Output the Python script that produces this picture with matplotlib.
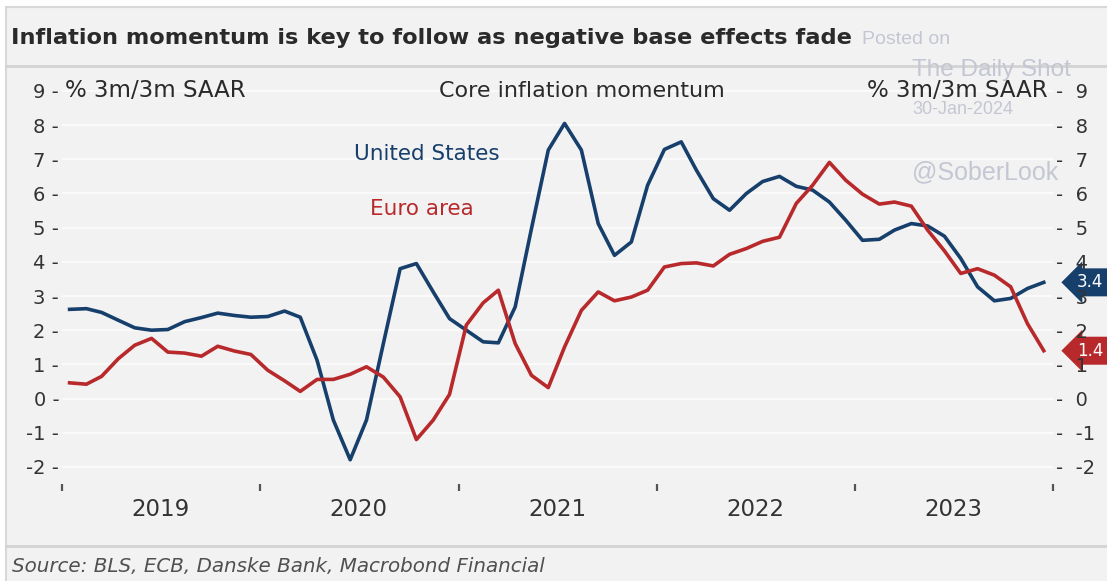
import numpy as np
import pandas as pd
import matplotlib.pyplot as plt
from matplotlib.patches import Rectangle
from matplotlib.lines import Line2D

# Core inflation momentum, % 3m/3m SAAR, monthly Jan 2019 - Dec 2023
us = [2.61, 2.63, 2.52, 2.29, 2.07, 2.00, 2.02, 2.25, 2.37, 2.50, 2.43, 2.38,
      2.40, 2.56, 2.38, 1.12, -0.63, -1.79, -0.63, 1.60, 3.80, 3.95, 3.12, 2.34,
      2.00, 1.66, 1.63, 2.68, 4.97, 7.27, 8.05, 7.27, 5.12, 4.19, 4.58, 6.24,
      7.29, 7.51, 6.68, 5.85, 5.51, 6.00, 6.35, 6.50, 6.21, 6.10, 5.75, 5.22,
      4.63, 4.66, 4.93, 5.12, 5.05, 4.75, 4.10, 3.27, 2.86, 2.93, 3.22, 3.40]
ea = [0.46, 0.42, 0.65, 1.17, 1.56, 1.76, 1.36, 1.33, 1.24, 1.53, 1.39, 1.29,
      0.83, 0.52, 0.21, 0.56, 0.56, 0.71, 0.93, 0.63, 0.05, -1.20, -0.63, 0.12,
      2.15, 2.80, 3.17, 1.61, 0.68, 0.32, 1.51, 2.58, 3.12, 2.86, 2.97, 3.17,
      3.85, 3.95, 3.97, 3.88, 4.22, 4.39, 4.60, 4.72, 5.71, 6.24, 6.91, 6.39,
      5.98, 5.69, 5.75, 5.63, 4.93, 4.32, 3.66, 3.80, 3.61, 3.27, 2.19, 1.40]
months = pd.date_range('2019-01-01', periods=len(us), freq='MS') + pd.Timedelta(days=14)
years = [2019, 2020, 2021, 2022, 2023]
yticks = list(range(-2, 10))

BLUE = '#173f6b'
RED = '#b8292b'
BG = '#f2f2f2'
TXT = '#2a2a2a'
W, H = 1107, 581

plt.rcParams['font.family'] = ['DejaVu Sans']

fig = plt.figure(figsize=(W / 100, H / 100), dpi=100)
fig.patch.set_facecolor('white')

# panel background, border and separators
fig.add_artist(Rectangle((6 / W, -0.01), 1.0, 1 + 0.01 - 7 / H, transform=fig.transFigure,
                         facecolor=BG, edgecolor='#d8d8d8', lw=1.5, zorder=0))
for ypx in (66, 546):
    fig.add_artist(Line2D([6 / W, 1], [1 - ypx / H] * 2, transform=fig.transFigure,
                          color='#d3d3d3', lw=2))

fig.text(11 / W, 1 - 38 / H, 'Inflation momentum is key to follow as negative base effects fade',
         fontsize=16.2, fontweight='bold', color=TXT, va='center', ha='left')
fig.text(12 / W, 1 - 566 / H, 'Source: BLS, ECB, Danske Bank, Macrobond Financial',
         fontsize=14.3, style='italic', color='#505050', va='center', ha='left')

# watermark
wm = '#c4c7d3'
fig.text(862 / W, 1 - 40 / H, 'Posted on', fontsize=14, color=wm, va='center', family='Liberation Sans')
fig.text(912 / W, 1 - 70 / H, 'The Daily Shot', fontsize=17.5, color=wm, va='center', family='Liberation Sans')
fig.text(912 / W, 1 - 109 / H, '30-Jan-2024', fontsize=13, color=wm, va='center', family='Liberation Sans')
fig.text(912 / W, 1 - 172 / H, '@SoberLook', fontsize=18, color=wm, va='center', family='Liberation Sans')

ax = fig.add_axes([62 / W, 1 - 484 / H, (1053 - 62) / W, (484 - 79) / H])
ax.set_facecolor('none')
ax.plot(months, us, color=BLUE, lw=2.6, solid_joinstyle='round', zorder=3)
ax.plot(months, ea, color=RED, lw=2.6, solid_joinstyle='round', zorder=3)

ax.set_xlim(pd.Timestamp('2019-01-01'), pd.Timestamp('2024-01-01'))
ax.set_ylim(-2.5, 9.35)
for s in ax.spines.values():
    s.set_visible(False)

ax.set_yticks(yticks)
ax.set_yticklabels([f'{v} -' for v in yticks])
ax.tick_params(axis='y', length=0, pad=2, labelsize=14, labelcolor='#333333')
ax.grid(axis='y', color='#fafafa', lw=1.6, zorder=1)

ax.set_xticks([pd.Timestamp(f'{y}-01-01') for y in years + [2024]])
ax.set_xticklabels([])
ax.set_xticks([pd.Timestamp(f'{y}-07-01') for y in years], minor=True)
ax.set_xticklabels([str(y) for y in years], minor=True)
ax.tick_params(axis='x', which='major', length=5, width=1.6, color='#555555', direction='out')
ax.tick_params(axis='x', which='minor', length=0, pad=10, labelsize=16.5, labelcolor='#333333')

ax2 = ax.twinx()
ax2.set_ylim(ax.get_ylim())
ax2.set_yticks(yticks)
ax2.set_yticklabels([f'-  {v}' for v in yticks])
ax2.tick_params(axis='y', length=0, pad=2, labelsize=14, labelcolor='#333333')
for s in ax2.spines.values():
    s.set_visible(False)

yt = ax.get_yaxis_transform()
ax.text(0.003, 9, '% 3m/3m SAAR', transform=yt, fontsize=16.5, color=TXT, va='center', ha='left')
ax.text(0.995, 9, '% 3m/3m SAAR', transform=yt, fontsize=16.5, color=TXT, va='center', ha='right')
ax.text(0.525, 9, 'Core inflation momentum', transform=yt, fontsize=16, color=TXT,
        va='center', ha='center')
ax.text(0.368, 7.15, 'United States', transform=yt, fontsize=15.5, color=BLUE, va='center', ha='center')
ax.text(0.363, 5.54, 'Euro area', transform=yt, fontsize=15.5, color=RED, va='center', ha='center')

# last-value tags on the right
for vals, col in ((us, BLUE), (ea, RED)):
    ax.text(1.024, vals[-1], f'{vals[-1]:.1f}', transform=yt,
            fontsize=12, color='white', va='center', ha='left', zorder=5, clip_on=False,
            bbox=dict(boxstyle='larrow,pad=0.3', facecolor=col, edgecolor='none'))

fig.savefig('out.png', dpi=100, facecolor=fig.get_facecolor())
